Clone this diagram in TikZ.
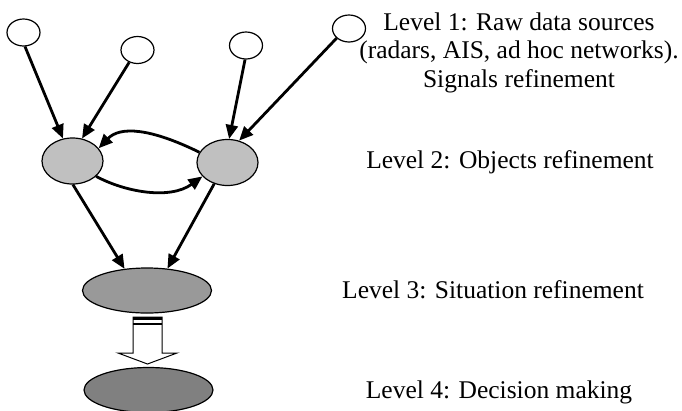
\documentclass[tikz,border=0pt]{standalone}
\usepackage{fontspec}
\setmainfont{Liberation Serif}
\usetikzlibrary{shapes.geometric,arrows.meta}
\definecolor{objgray}{HTML}{C0C0C0}
\definecolor{sitgray}{HTML}{999999}
\definecolor{decgray}{HTML}{808080}

\begin{document}
\begin{tikzpicture}[x=1pt,y=-1pt,
        src/.style={draw,ellipse,fill=white,line width=1.2pt,inner sep=0pt,minimum width=33pt,minimum height=27pt},
        obj/.style={draw,ellipse,fill=objgray,line width=1.2pt,inner sep=0pt,minimum width=61pt,minimum height=46pt},
        lvl/.style={draw,ellipse,line width=1.2pt,inner sep=0pt,minimum width=129pt,minimum height=45pt},
        link/.style={line width=2.8pt,-{Triangle[length=14pt,width=12pt]}},
        lbl/.style={font=\fontsize{25.5}{28.5}\selectfont,inner sep=0pt,anchor=base,align=center}]
        \useasboundingbox (0,0) rectangle (682,410);
        % Sources:
        \node[src] (src1) at (23.5,32.5) {};
        \node[src] (src2) at (137.5,50) {};
        \node[src] (src3) at (246,45.5) {};
        \node[src] (src4) at (349,28.5) {};
        % Objects, situation, decision:
        \node[obj] (obj1) at (72.5,161) {};
        \node[obj] (obj2) at (227.5,162.5) {};
        \node[lvl,fill=sitgray] (sit) at (147,290.5) {};
        \node[lvl,fill=decgray] (dec) at (148.5,390) {};

        %links
        \draw[link] (src1.-84) -- (obj1.113);
        \draw[link] (src2.-124) -- (obj1.67);
        \draw[link] (src3.-94) -- (obj2.86);
        \draw[link] (src4.-142) -- (obj2.62);
        \draw[link] (obj2.160) .. controls (150,128) and (120,126) .. (obj1.26);
        \draw[link] (obj1.-33) .. controls (125,192) and (170,200) .. (obj2.-151);
        \draw[link] (obj1.-89) -- (sit.136);
        \draw[link] (obj2.-122) -- (sit.47);

        % hollow arrow
        \draw[line width=1pt,fill=white] (133,317) -- (133,353) -- (118,353) -- (147.5,364)
            -- (177,353) -- (162,353) -- (162,317) -- cycle;
        \draw[line width=3.5pt] (133,318.7) -- (162,318.7);
        \draw[line width=2.2pt] (133,323.9) -- (162,323.9);

        % Labels:
        \node[lbl] (lev1) at (519,87) {Level 1: Raw data sources\\(radars, AIS, ad hoc networks).\\Signals refinement};
        \node[lbl] (lev2) at (510,168) {Level 2: Objects refinement};
        \node[lbl] (lev3) at (493,298) {Level 3: Situation refinement};
        \node[lbl] (lev4) at (499,398) {Level 4: Decision making};
\end{tikzpicture}
\end{document}
